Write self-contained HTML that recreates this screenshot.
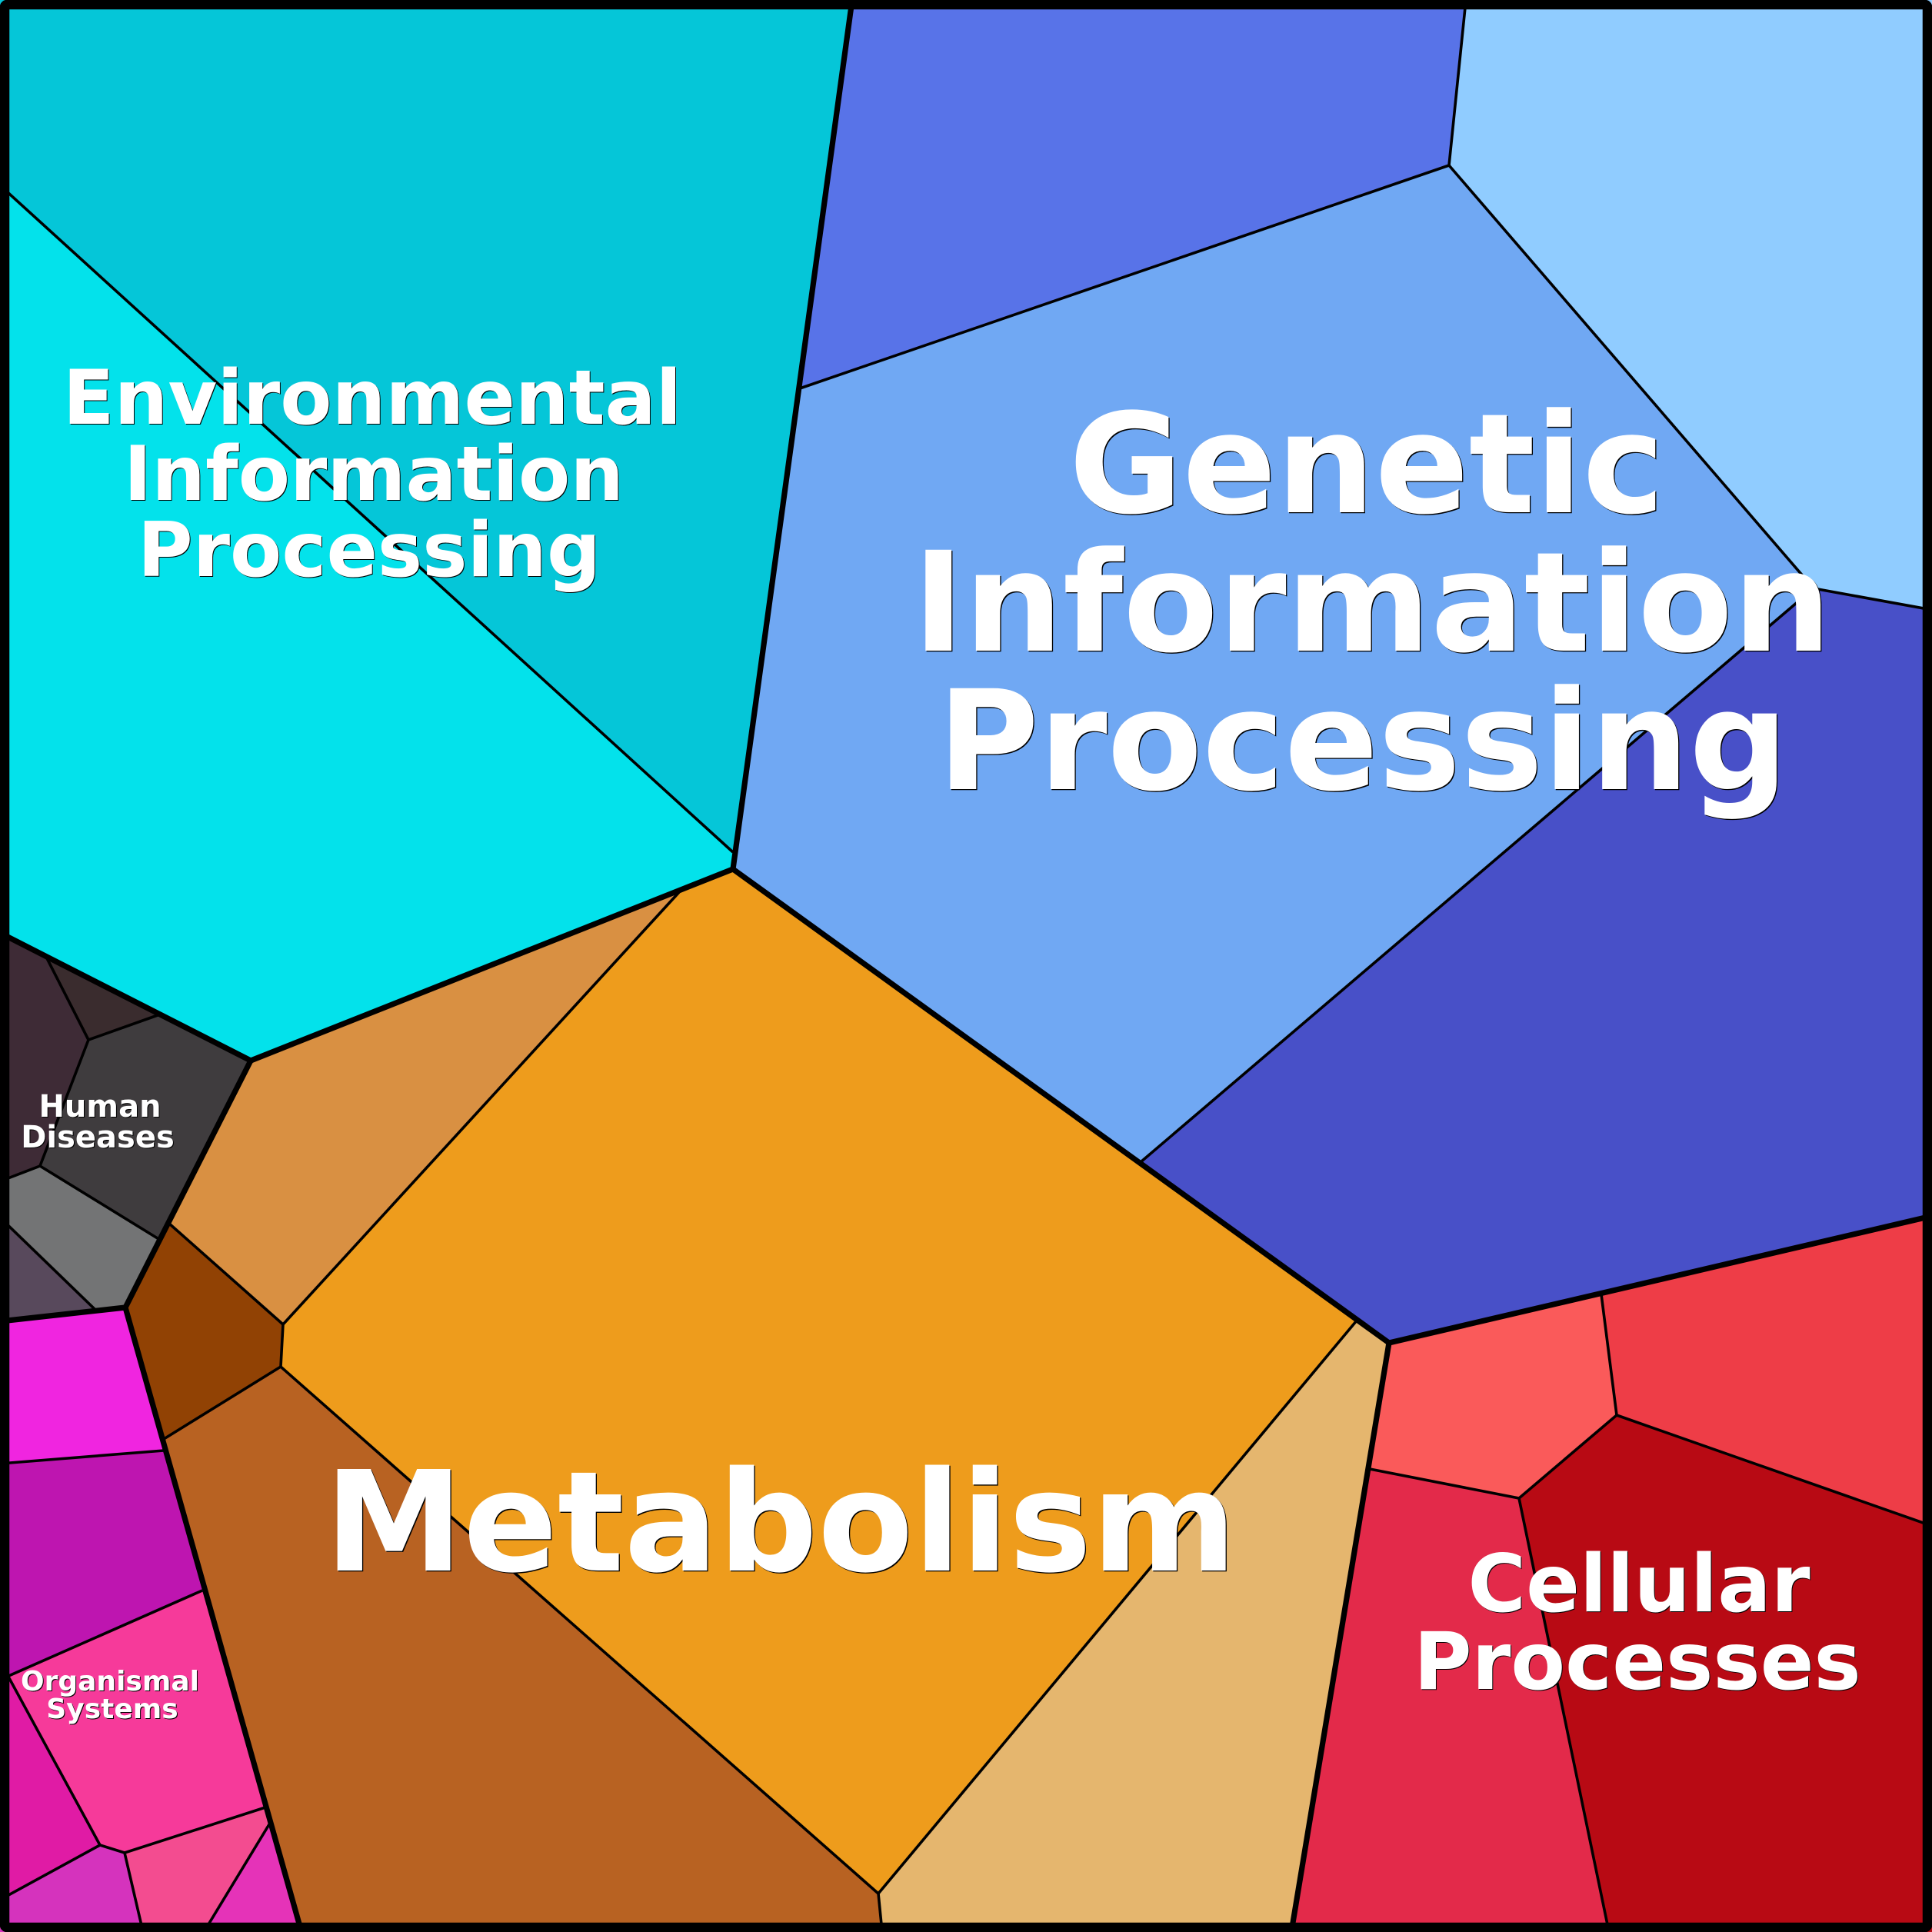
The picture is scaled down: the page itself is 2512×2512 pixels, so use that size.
<!DOCTYPE html>
<html><head><meta charset="utf-8"><style>
html,body{margin:0;padding:0;background:#777}
svg{display:block}
text{font-family:"DejaVu Sans","Liberation Sans",sans-serif;font-weight:bold;text-anchor:middle;fill:#fff}
.t{fill:none;stroke:#000;stroke-width:3.6;stroke-linejoin:miter}
.k{fill:none;stroke:#000;stroke-width:7.2;stroke-linejoin:miter}
</style></head><body>
<svg xmlns="http://www.w3.org/2000/svg" width="2512" height="2512" viewBox="0 0 2512 2512">
<rect width="2512" height="2512" fill="#777"/>
<!-- environmental -->
<polygon fill="#05C6D8" points="0,241 0,0 1108,0 953,1130 953,1108"/>
<polygon fill="#03E2EB" points="0,241 953,1108 953,1130 326,1379 0,1213"/>
<!-- genetic -->
<polygon fill="#5873E8" points="1108,0 1906,0 1884,215 1040,505"/>
<polygon fill="#90CCFF" points="1906,0 2512,0 2512,793 2358,765 1884,215"/>
<polygon fill="#70A8F3" points="1108,0 1040,505 1884,215 2358,765 1483,1511 953,1130"/>
<polygon fill="#4850C8" points="2358,765 2512,793 2512,1581 1806,1746 1483,1511"/>
<!-- metabolism -->
<polygon fill="#EE9C1C" points="953,1130 883,1160 368,1722 365,1777 1142,2462 1764,1717"/>
<polygon fill="#D99042" points="326,1379 953,1130 883,1160 368,1722 219,1590"/>
<polygon fill="#914204" points="219,1590 368,1722 365,1777 213,1871 163,1700"/>
<polygon fill="#B86222" points="213,1871 365,1777 1142,2462 1147,2512 392,2512"/>
<polygon fill="#E5B66E" points="1764,1717 1806,1746 1679,2512 1147,2512 1142,2462"/>
<!-- cellular -->
<polygon fill="#FA5A5A" points="1806,1746 2082,1683 2102,1840 1975,1948 1781,1910"/>
<polygon fill="#EE3D47" points="2082,1683 2512,1581 2512,1984 2102,1840"/>
<polygon fill="#B80A14" points="2102,1840 2512,1984 2512,2512 2092,2512 1975,1948"/>
<polygon fill="#E32A4A" points="1781,1910 1975,1948 2092,2512 1679,2512"/>
<!-- human diseases -->
<polygon fill="#3E2B36" points="0,1213 60,1244 115,1352 52,1516 0,1536"/>
<polygon fill="#3A2C2E" points="60,1244 205,1320 115,1352"/>
<polygon fill="#3F3C3E" points="115,1352 205,1320 326,1379 208,1612 52,1516"/>
<polygon fill="#737475" points="0,1536 52,1516 208,1612 163,1700 123,1702 0,1583"/>
<polygon fill="#58495C" points="0,1583 123,1702 0,1718"/>
<!-- organismal -->
<polygon fill="#F025E0" points="0,1718 163,1700 213,1886 0,1903"/>
<polygon fill="#BE15B0" points="0,1903 213,1886 263,2068 0,2184"/>
<polygon fill="#F63A9A" points="0,2184 263,2068 345,2350 162,2409 130,2399"/>
<polygon fill="#E01BA5" points="0,2160 130,2399 0,2470"/>
<polygon fill="#D533BD" points="0,2470 130,2399 162,2409 186,2512 0,2512"/>
<polygon fill="#F34C90" points="162,2409 345,2350 350,2372 265,2512 186,2512"/>
<polygon fill="#E533B8" points="350,2372 392,2512 265,2512"/>
<!-- thin lines -->
<g class="t">
<polyline points="0,241 953,1108"/>
<polyline points="1040,505 1884,215 1906,0"/>
<polyline points="1884,215 2358,765 2512,793"/>
<polyline points="2358,765 1483,1511"/>
<polyline points="883,1160 368,1722 365,1777 1142,2462 1764,1717"/>
<polyline points="219,1590 368,1722"/>
<polyline points="213,1871 365,1777"/>
<polyline points="1142,2462 1147,2512"/>
<polyline points="2082,1683 2102,1840 2512,1984"/>
<polyline points="2102,1840 1975,1948 2092,2512"/>
<polyline points="1781,1910 1975,1948"/>
<polyline points="60,1244 115,1352 205,1320"/>
<polyline points="115,1352 52,1516 0,1536"/>
<polyline points="52,1516 208,1612"/>
<polyline points="0,1583 123,1702"/>
<polyline points="0,1903 213,1886"/>
<polyline points="0,2184 263,2068"/>
<polyline points="0,2160 130,2399 162,2409 345,2350"/>
<polyline points="0,2470 130,2399"/>
<polyline points="162,2409 186,2512"/>
<polyline points="350,2372 265,2512"/>
</g>
<!-- thick lines -->
<g class="k">
<polyline points="1108,0 953,1130 1806,1746 2512,1581"/>
<polyline points="953,1130 326,1379 0,1213"/>
<polyline points="326,1379 163,1700 392,2512"/>
<polyline points="0,1718 163,1700"/>
<polyline points="1806,1746 1679,2512"/>
</g>
<rect x="6" y="6" width="2500" height="2500" rx="3" fill="none" stroke="#000" stroke-width="12.5"/>
<!-- labels -->
<g style="font-size:180px">
<text x="1778.3" y="667.3" style="fill:#000">Genetic</text><text x="1777" y="666">Genetic</text>
<text x="1785.3" y="847.3" style="fill:#000">Information</text><text x="1784" y="846">Information</text>
<text x="1773.3" y="1027.3" style="fill:#000">Processing</text><text x="1772" y="1026">Processing</text>
</g>
<g style="font-size:181px">
<text x="1016.3" y="2043.3" style="fill:#000">Metabolism</text><text x="1015" y="2042">Metabolism</text>
</g>
<g style="font-size:98px">
<text x="485" y="552" style="fill:#000">Environmental</text><text x="484" y="551">Environmental</text>
<text x="487" y="651" style="fill:#000">Information</text><text x="486" y="650">Information</text>
<text x="481" y="750" style="fill:#000">Processing</text><text x="480" y="749">Processing</text>
</g>
<g style="font-size:103px">
<text x="2132" y="2096" style="fill:#000">Cellular</text><text x="2131" y="2095">Cellular</text>
<text x="2130" y="2197" style="fill:#000">Processes</text><text x="2129" y="2196">Processes</text>
</g>
<g style="font-size:40px">
<text x="131" y="1453" style="fill:#000">Human</text><text x="130" y="1452">Human</text>
<text x="128" y="1493" style="fill:#000">Diseases</text><text x="127" y="1492">Diseases</text>
</g>
<g style="font-size:36px">
<text x="144" y="2199" style="fill:#000">Organismal</text><text x="143" y="2198">Organismal</text>
<text x="147" y="2235" style="fill:#000">Systems</text><text x="146" y="2234">Systems</text>
</g>
</svg>
</body></html>
